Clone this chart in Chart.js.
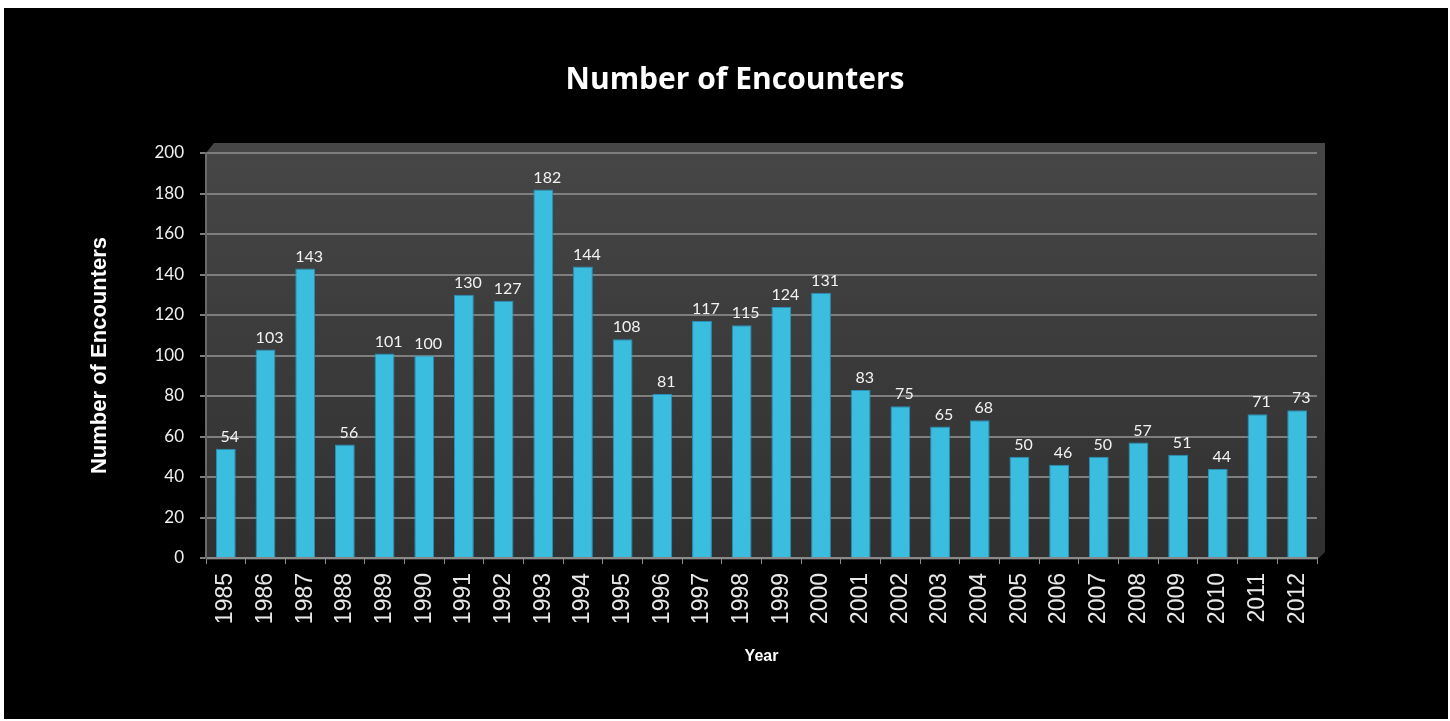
<!DOCTYPE html>
<html>
<head>
<meta charset="utf-8">
<script src="https://cdn.jsdelivr.net/npm/chart.js@4"></script>
<style>
  body { margin: 0; background: #fff; }
  #wrap { position: absolute; left: 4px; top: 8px; width: 1444px; height: 711px; background: #000; }
</style>
</head>
<body>
<div id="wrap"><canvas id="myChart"></canvas></div>
<script>
const years = ['1985','1986','1987','1988','1989','1990','1991','1992','1993','1994',
  '1995','1996','1997','1998','1999','2000','2001','2002','2003','2004',
  '2005','2006','2007','2008','2009','2010','2011','2012'];
const encounters = [54,103,143,56,101,100,130,127,182,144,108,81,117,115,124,131,83,75,65,68,50,46,50,57,51,44,71,73];
const yTicks = [0,20,40,60,80,100,120,140,160,180,200];

// gray 3d-ish wall behind the bars
const wallPlugin = {
  id: 'wall',
  beforeDraw(chart) {
    const {ctx, chartArea: a} = chart;
    ctx.save();
    const g = ctx.createLinearGradient(0, a.top, 0, a.bottom);
    g.addColorStop(0, '#464646');
    g.addColorStop(1, '#303030');
    ctx.fillStyle = g;
    ctx.beginPath();
    ctx.moveTo(a.left, a.top);
    ctx.lineTo(a.left + 8, a.top - 10);
    ctx.lineTo(a.right + 8, a.top - 10);
    ctx.lineTo(a.right + 8, a.bottom - 6);
    ctx.lineTo(a.right, a.bottom + 2);
    ctx.lineTo(a.left, a.bottom + 2);
    ctx.closePath();
    ctx.fill();
    ctx.restore();
  }
};

const labelPlugin = {
  id: 'valueLabels',
  afterDatasetsDraw(chart) {
    const {ctx} = chart;
    ctx.save();
    ctx.fillStyle = '#f2f2f2';
    ctx.font = '16px Lato';
    ctx.textAlign = 'center';
    ctx.textBaseline = 'bottom';
    chart.getDatasetMeta(0).data.forEach((bar, i) => {
      ctx.fillText(encounters[i], bar.x + 4, bar.y - 4);
    });
    ctx.restore();
  }
};

const ctx = document.getElementById('myChart');

new Chart(ctx, {
  type: 'bar',
  data: {
    labels: years,
    datasets: [{
      label: 'Number of Encounters',
      data: encounters,
      backgroundColor: '#3bbde0',
      borderColor: '#2a8fb6',
      borderWidth: 1,
      barPercentage: 0.5,
      categoryPercentage: 1
    }]
  },
  options: {
    responsive: true,
    maintainAspectRatio: false,
    animation: false,
    layout: { padding: { left: 80, right: 62, top: 0, bottom: 41 } },
    plugins: {
      legend: { display: false },
      tooltip: { enabled: false },
      title: {
        display: true,
        text: 'Number of Encounters',
        color: '#ffffff',
        font: { family: 'Open Sans', size: 30, weight: 'bold' },
        padding: { top: 54, bottom: 55 }
      }
    },
    scales: {
      x: {
        afterFit: (s) => { s.height = 120; },
        grid: { drawOnChartArea: false, color: '#8a8a8a', tickLength: 6 },
        border: { color: '#8a8a8a', width: 2 },
        ticks: {
          color: '#e8e8e8',
          font: { family: 'Liberation Sans', size: 23 },
          minRotation: 90, maxRotation: 90,
          padding: 9
        },
        title: {
          display: true,
          text: 'Year',
          color: '#ffffff',
          font: { family: 'Liberation Sans', size: 16, weight: 'bold' },
          padding: { top: 0, bottom: 12 }
        }
      },
      y: {
        min: 0, max: 200,
        afterFit: (s) => { s.width = 122; },
        afterBuildTicks: (s) => { s.ticks = yTicks.map(v => ({ value: v })); },
        grid: { color: '#7e7e7e', lineWidth: 2, tickLength: 6 },
        border: { color: '#6a6a6a', width: 2 },
        ticks: {
          color: '#f0f0f0',
          font: { family: 'Lato', size: 17 },
          padding: 16
        },
        title: {
          display: true,
          text: 'Number of Encounters',
          color: '#ffffff',
          font: { family: 'Liberation Sans', size: 22, weight: 'bold' },
          padding: { top: 3, bottom: 0 }
        }
      },
      // empty right-hand axis only to reserve the gap to the right of the plot
      yRight: {
        position: 'right',
        afterFit: (s) => { s.width = 69; },
        grid: { display: false },
        border: { display: false },
        ticks: { display: false }
      }
    }
  },
  plugins: [wallPlugin, labelPlugin]
});
</script>
</body>
</html>
